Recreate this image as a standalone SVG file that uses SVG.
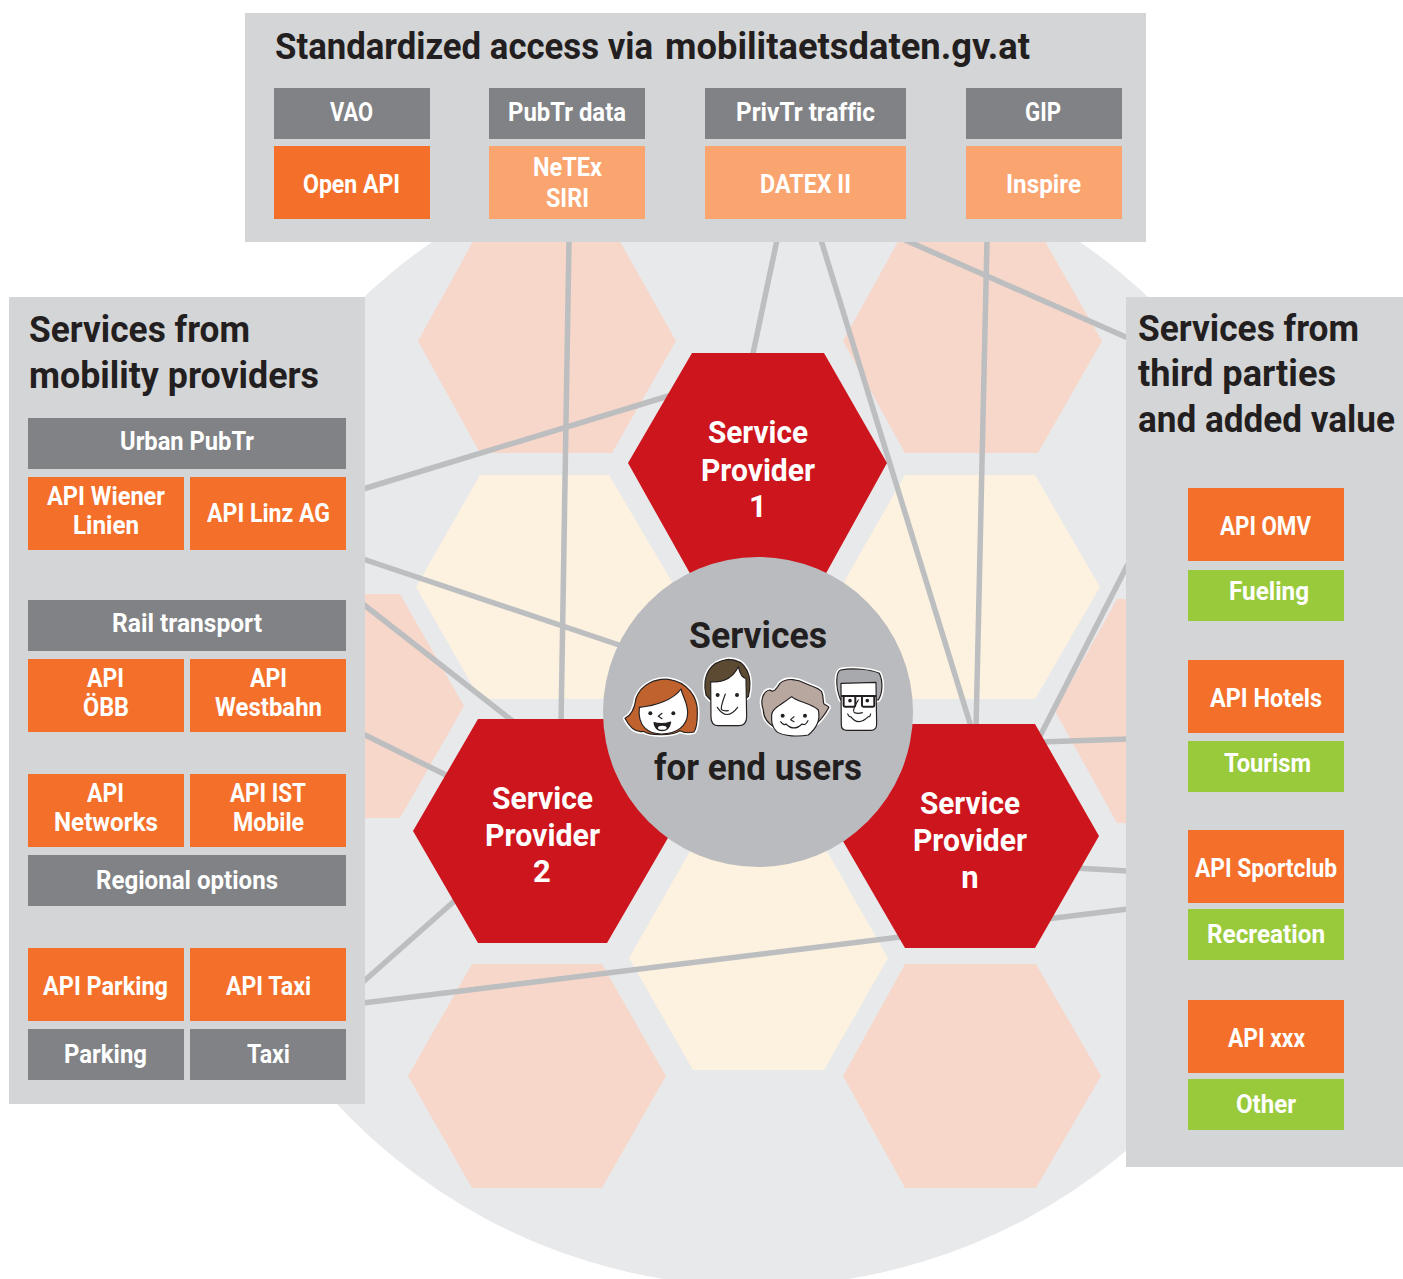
<svg xmlns="http://www.w3.org/2000/svg" width="1403" height="1279" viewBox="0 0 1403 1279">
<style>
text{font-family:"Roboto","Liberation Sans",sans-serif;font-weight:700;font-variant-ligatures:none}
.t{font-size:36px;fill:#231f20}
.l{font-size:25px;fill:#fff}
.p{font-size:31px;fill:#fff}
.c{font-size:36px;fill:#231f20}
.panel{fill:#d4d5d7}
.g{fill:#808285}
.o{fill:#f4702a}
.lo{fill:#faa470}
.v{fill:#99ca3c}
.pink{fill:#f8d7cb}
.cream{fill:#fdf1e0}
.red{fill:#cd151d}
#connectors line{stroke:#bcbec0;stroke-width:5.5}
.ink{stroke:#231f20;stroke-width:3.5;stroke-linejoin:round;stroke-linecap:round}
.halo{fill:#fff;stroke:#fff;stroke-width:13;stroke-linejoin:round}
.line{fill:none}
.frame{fill:none;stroke:#231f20;stroke-width:6;stroke-linejoin:round}
.face{fill:#fff}
.dot{fill:#231f20}
</style>
<circle id="backdrop" cx="756" cy="714" r="572.5" fill="#e8e9eb"/>
<g id="background-hexagons">
<polygon class="pink" points="480,229 613,229 676,341 612,453 480,453 418,341"/>
<polygon class="pink" points="905,229 1038,229 1102,341 1038,453 905,453 843,341"/>
<polygon class="cream" points="480,475 609,475 675,587 609,699 480,699 416,587"/>
<polygon class="cream" points="905,475 1035,475 1100,587 1035,699 905,699 841,587"/>
<polygon class="cream" points="693,846 824,846 888,958 824,1070 693,1070 629,958"/>
<polygon class="pink" points="472,964 602,964 666,1076 602,1188 472,1188 408,1076"/>
<polygon class="pink" points="905,964 1036,964 1101,1076 1036,1188 905,1188 843,1076"/>
<polygon class="pink" points="272,594 400,594 464,706 400,818 272,818 208,706"/>
<polygon class="pink" points="1117,599 1250,599 1310,711 1250,823 1117,823 1055,711"/>
</g>
<g id="connectors">
<line x1="569" y1="240" x2="561" y2="725"/>
<line x1="777" y1="240" x2="752" y2="358"/>
<line x1="821" y1="240" x2="972" y2="730"/>
<line x1="987" y1="240" x2="976" y2="730"/>
<line x1="905" y1="240" x2="1128" y2="338"/>
<line x1="363" y1="489" x2="675" y2="394"/>
<line x1="363" y1="559" x2="625" y2="647"/>
<line x1="363" y1="604" x2="515" y2="723"/>
<line x1="363" y1="734" x2="452" y2="778"/>
<line x1="363" y1="982" x2="460" y2="896"/>
<line x1="363" y1="1003" x2="1128" y2="909"/>
<line x1="1128" y1="564" x2="1038" y2="740"/>
<line x1="1128" y1="739" x2="1040" y2="742"/>
<line x1="1128" y1="871" x2="1075" y2="868"/>
</g>
<g id="sp1"><polygon class="red" points="692,353 824,353 887,463 824,577 692,577 628,463"/>
<text class="p" x="708" y="443" textLength="100" lengthAdjust="spacingAndGlyphs">Service</text>
<text class="p" x="701" y="481" textLength="114" lengthAdjust="spacingAndGlyphs">Provider</text>
<text class="p" x="758" y="517" text-anchor="middle">1</text></g>
<g id="sp2"><polygon class="red" points="478,719 607,719 672,831 607,943 478,943 413,831"/>
<text class="p" x="492" y="809" textLength="101" lengthAdjust="spacingAndGlyphs">Service</text>
<text class="p" x="485" y="846" textLength="115" lengthAdjust="spacingAndGlyphs">Provider</text>
<text class="p" x="542" y="882" text-anchor="middle">2</text></g>
<g id="spn"><polygon class="red" points="905,724 1035,724 1099,836 1035,948 905,948 840,836"/>
<text class="p" x="920" y="814" textLength="100" lengthAdjust="spacingAndGlyphs">Service</text>
<text class="p" x="913" y="851" textLength="114" lengthAdjust="spacingAndGlyphs">Provider</text>
<text class="p" x="970" y="888" text-anchor="middle">n</text></g>
<g id="center"><circle cx="758" cy="712" r="155" fill="#babbbe"/>
<text class="c" x="689" y="648" textLength="138" lengthAdjust="spacingAndGlyphs">Services</text>
<text class="c" x="654" y="780" textLength="208" lengthAdjust="spacingAndGlyphs">for end users</text>
<g id="faces" transform="translate(600 600) scale(.3333)">
<g id="face-girl">
<path class="halo" d="M75,355C95,345 105,320 108,295C125,250 170,235 205,238C260,245 295,290 292,340C292,365 290,385 282,396C265,400 250,398 240,392C215,408 150,408 130,394C110,398 90,385 75,355Z"/>
<path class="ink" fill="#c0622d" d="M75,355C95,345 105,320 108,295C125,250 170,235 205,238C260,245 295,290 292,340C292,365 290,385 282,396C265,400 250,398 240,392C215,408 150,408 130,394C110,398 90,385 75,355Z"/>
<path class="ink face" d="M118,322C165,318 220,300 243,267C250,295 264,310 263,340C262,378 230,402 185,402C145,402 112,380 118,322Z"/>
<circle class="dot" cx="151" cy="340" r="6"/><circle class="dot" cx="220" cy="340" r="6"/>
<path class="ink line" d="M186,340L175,349L186,356"/>
<path class="ink" fill="#231f20" d="M162,368Q187,375 212,366Q208,392 187,392Q165,392 162,368Z"/>
<ellipse class="face" cx="187" cy="383" rx="13" ry="6"/>
</g>
<g id="face-man">
<path class="halo" d="M318,285C305,225 330,185 385,178C440,178 460,230 445,290L432,300L332,300Z"/>
<path class="ink" fill="#5c4a32" d="M318,285C305,225 330,185 385,178C440,178 460,230 445,290L432,300L332,300Z"/>
<path class="ink face" d="M332,245C365,248 395,240 415,200C420,222 428,235 438,235L440,350Q440,377 415,377L355,377Q333,377 333,350Z"/>
<circle class="dot" cx="353" cy="285" r="6"/><circle class="dot" cx="411" cy="285" r="6"/>
<path class="ink line" d="M376,282Q362,320 364,328Q370,334 385,332"/>
<path class="ink line" d="M352,322Q380,365 413,322"/>
</g>
<g id="face-woman">
<path class="halo" d="M490,330C480,305 488,272 510,270C522,280 530,265 540,250C560,232 595,238 615,250C640,262 655,262 665,275C672,290 668,305 672,312C682,318 690,320 685,325C675,345 668,350 665,355C650,372 640,380 630,380L530,385C510,375 490,360 490,330Z"/>
<path class="ink" fill="#b8a79f" d="M490,330C480,305 488,272 510,270C522,280 530,265 540,250C560,232 595,238 615,250C640,262 655,262 665,275C672,290 668,305 672,312C682,318 690,320 685,325C675,345 668,350 665,355C650,372 640,380 630,380L530,385C510,375 490,360 490,330Z"/>
<path class="ink face" d="M515,345C515,325 550,310 575,290C590,305 635,310 655,330C662,360 650,385 625,405C600,410 550,410 530,395C515,380 514,365 515,345Z"/>
<circle class="dot" cx="548" cy="347" r="6"/><circle class="dot" cx="615" cy="347" r="6"/>
<path class="ink line" d="M582,350L572,359L582,365"/>
<path class="ink line" d="M542,365Q552,378 558,372Q582,396 606,372Q616,378 624,362"/>
</g>
<g id="face-oldman">
<path class="halo" d="M722,300C705,260 708,215 722,210C760,203 810,208 838,220C850,245 848,280 835,300Z"/>
<path class="ink" fill="#a7a9ac" d="M722,300C705,260 708,215 722,210C760,203 810,208 838,220C850,245 848,280 835,300Z"/>
<path class="ink face" d="M723,250L828,247L830,372Q830,391 812,391L742,391Q724,391 724,375Z"/>
<rect class="frame" x="731" y="288" width="35" height="32" rx="4"/>
<rect class="frame" x="786" y="288" width="37" height="32" rx="4"/>
<path class="frame" d="M724,288L828,288"/>
<circle class="dot" cx="750" cy="302" r="5.5"/><circle class="dot" cx="802" cy="302" r="5.5"/>
<path class="ink line" d="M775,300Q755,332 763,338Q775,342 787,338"/>
<path class="ink line" d="M743,342Q748,352 752,350Q775,380 805,350Q810,352 812,342"/>
</g>
</g></g>
<g id="panel-top"><rect class="panel" x="245" y="13" width="901" height="229"/>
<text class="t" x="275" y="59" textLength="378" lengthAdjust="spacingAndGlyphs">Standardized access via</text>
<text class="t" x="665" y="59" textLength="365" lengthAdjust="spacingAndGlyphs">mobilitaetsdaten.gv.at</text>
<g id="vao"><rect class="g" x="274" y="88" width="156" height="51"/><text class="l" x="330" y="121" textLength="43" lengthAdjust="spacingAndGlyphs">VAO</text></g>
<g id="pubtr"><rect class="g" x="489" y="88" width="156" height="51"/><text class="l" x="508" y="121" textLength="118" lengthAdjust="spacingAndGlyphs">PubTr data</text></g>
<g id="privtr"><rect class="g" x="705" y="88" width="201" height="51"/><text class="l" x="736" y="121" textLength="139" lengthAdjust="spacingAndGlyphs">PrivTr traffic</text></g>
<g id="gip"><rect class="g" x="966" y="88" width="156" height="51"/><text class="l" x="1025" y="121" textLength="36" lengthAdjust="spacingAndGlyphs">GIP</text></g>
<g id="openapi"><rect class="o" x="274" y="146" width="156" height="73"/><text class="l" x="303" y="193" textLength="97" lengthAdjust="spacingAndGlyphs">Open API</text></g>
<g id="netex"><rect class="lo" x="489" y="146" width="156" height="73"/><text class="l" x="533" y="176" textLength="69" lengthAdjust="spacingAndGlyphs">NeTEx</text><text class="l" x="546" y="207" textLength="43" lengthAdjust="spacingAndGlyphs">SIRI</text></g>
<g id="datex"><rect class="lo" x="705" y="146" width="201" height="73"/><text class="l" x="760" y="193" textLength="91" lengthAdjust="spacingAndGlyphs">DATEX II</text></g>
<g id="inspire"><rect class="lo" x="966" y="146" width="156" height="73"/><text class="l" x="1006" y="193" textLength="75" lengthAdjust="spacingAndGlyphs">Inspire</text></g>
</g>
<g id="panel-left"><rect class="panel" x="9" y="297" width="356" height="807"/>
<text class="t" x="29" y="342" textLength="221" lengthAdjust="spacingAndGlyphs">Services from</text>
<text class="t" x="29" y="388" textLength="290" lengthAdjust="spacingAndGlyphs">mobility providers</text>
<g id="urban"><rect class="g" x="28" y="418" width="318" height="51"/><text class="l" x="120" y="450" textLength="134" lengthAdjust="spacingAndGlyphs">Urban PubTr</text></g>
<g id="wiener"><rect class="o" x="28" y="477" width="156" height="73"/><text class="l" x="47" y="505" textLength="118" lengthAdjust="spacingAndGlyphs">API Wiener</text><text class="l" x="73" y="534" textLength="66" lengthAdjust="spacingAndGlyphs">Linien</text></g>
<g id="linz"><rect class="o" x="190" y="477" width="156" height="73"/><text class="l" x="207" y="522" textLength="123" lengthAdjust="spacingAndGlyphs">API Linz AG</text></g>
<g id="rail"><rect class="g" x="28" y="600" width="318" height="51"/><text class="l" x="112" y="632" textLength="150" lengthAdjust="spacingAndGlyphs">Rail transport</text></g>
<g id="obb"><rect class="o" x="28" y="659" width="156" height="73"/><text class="l" x="87" y="687" textLength="37" lengthAdjust="spacingAndGlyphs">API</text><text class="l" x="83" y="716" textLength="46" lengthAdjust="spacingAndGlyphs">ÖBB</text></g>
<g id="westbahn"><rect class="o" x="190" y="659" width="156" height="73"/><text class="l" x="250" y="687" textLength="37" lengthAdjust="spacingAndGlyphs">API</text><text class="l" x="215" y="716" textLength="107" lengthAdjust="spacingAndGlyphs">Westbahn</text></g>
<g id="networks"><rect class="o" x="28" y="774" width="156" height="73"/><text class="l" x="87" y="802" textLength="37" lengthAdjust="spacingAndGlyphs">API</text><text class="l" x="54" y="831" textLength="104" lengthAdjust="spacingAndGlyphs">Networks</text></g>
<g id="ist"><rect class="o" x="190" y="774" width="156" height="73"/><text class="l" x="230" y="802" textLength="76" lengthAdjust="spacingAndGlyphs">API IST</text><text class="l" x="233" y="831" textLength="71" lengthAdjust="spacingAndGlyphs">Mobile</text></g>
<g id="regional"><rect class="g" x="28" y="855" width="318" height="51"/><text class="l" x="96" y="889" textLength="182" lengthAdjust="spacingAndGlyphs">Regional options</text></g>
<g id="apiparking"><rect class="o" x="28" y="948" width="156" height="73"/><text class="l" x="43" y="995" textLength="125" lengthAdjust="spacingAndGlyphs">API Parking</text></g>
<g id="apitaxi"><rect class="o" x="190" y="948" width="156" height="73"/><text class="l" x="226" y="995" textLength="85" lengthAdjust="spacingAndGlyphs">API Taxi</text></g>
<g id="parking"><rect class="g" x="28" y="1029" width="156" height="51"/><text class="l" x="64" y="1063" textLength="83" lengthAdjust="spacingAndGlyphs">Parking</text></g>
<g id="taxi"><rect class="g" x="190" y="1029" width="156" height="51"/><text class="l" x="247" y="1063" textLength="43" lengthAdjust="spacingAndGlyphs">Taxi</text></g>
</g>
<g id="panel-right"><rect class="panel" x="1126" y="297" width="277" height="870"/>
<text class="t" x="1138" y="341" textLength="221" lengthAdjust="spacingAndGlyphs">Services from</text>
<text class="t" x="1138" y="386" textLength="198" lengthAdjust="spacingAndGlyphs">third parties</text>
<text class="t" x="1138" y="432" textLength="257" lengthAdjust="spacingAndGlyphs">and added value</text>
<g id="omv"><rect class="o" x="1188" y="488" width="156" height="73"/><text class="l" x="1220" y="535" textLength="91" lengthAdjust="spacingAndGlyphs">API OMV</text></g>
<g id="fueling"><rect class="v" x="1188" y="570" width="156" height="51"/><text class="l" x="1229" y="600" textLength="80" lengthAdjust="spacingAndGlyphs">Fueling</text></g>
<g id="hotels"><rect class="o" x="1188" y="660" width="156" height="73"/><text class="l" x="1210" y="707" textLength="112" lengthAdjust="spacingAndGlyphs">API Hotels</text></g>
<g id="tourism"><rect class="v" x="1188" y="741" width="156" height="51"/><text class="l" x="1224" y="772" textLength="87" lengthAdjust="spacingAndGlyphs">Tourism</text></g>
<g id="sportclub"><rect class="o" x="1188" y="830" width="156" height="73"/><text class="l" x="1195" y="877" textLength="142" lengthAdjust="spacingAndGlyphs">API Sportclub</text></g>
<g id="recreation"><rect class="v" x="1188" y="909" width="156" height="51"/><text class="l" x="1207" y="943" textLength="118" lengthAdjust="spacingAndGlyphs">Recreation</text></g>
<g id="xxx"><rect class="o" x="1188" y="1000" width="156" height="73"/><text class="l" x="1228" y="1047" textLength="77" lengthAdjust="spacingAndGlyphs">API xxx</text></g>
<g id="other"><rect class="v" x="1188" y="1079" width="156" height="51"/><text class="l" x="1236" y="1113" textLength="60" lengthAdjust="spacingAndGlyphs">Other</text></g>
</g>
</svg>
